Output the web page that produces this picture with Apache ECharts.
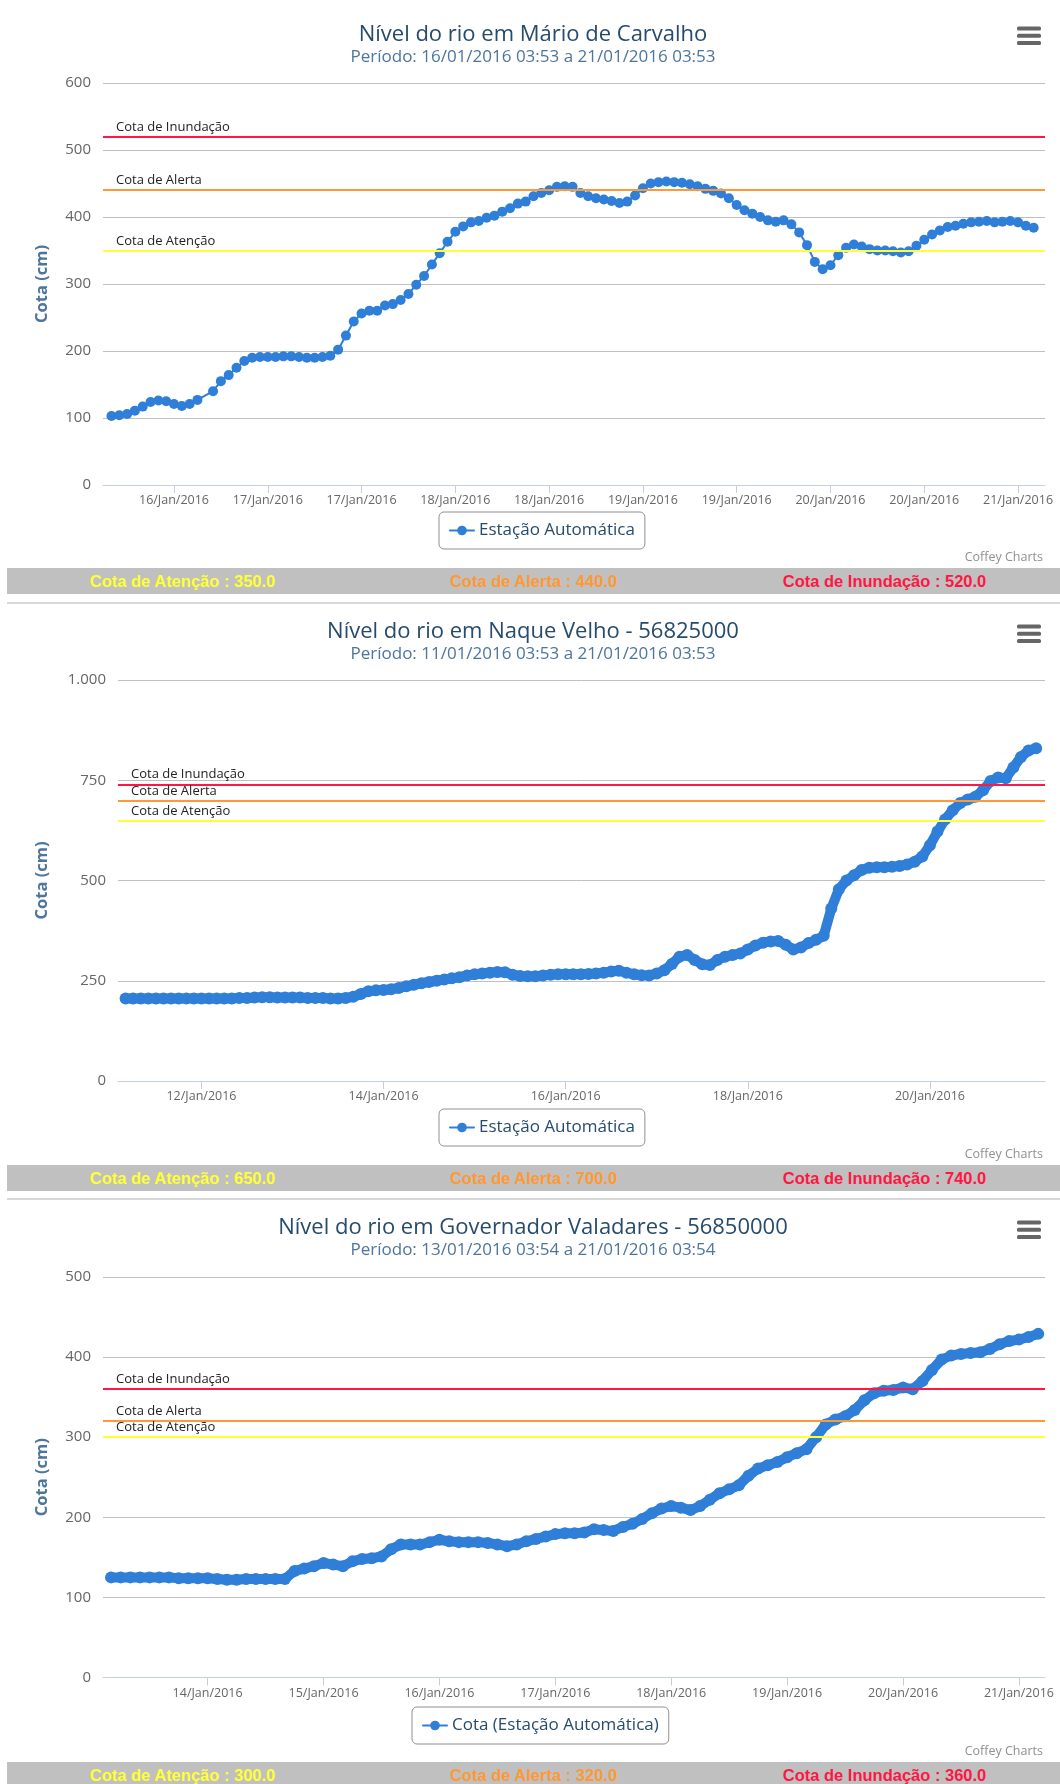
<!DOCTYPE html>
<html><head><meta charset="utf-8">
<script src="https://cdn.jsdelivr.net/npm/echarts@6/dist/echarts.min.js"></script>
<style>
html,body{margin:0;padding:0;overflow:hidden;background:#fff;width:1060px;height:1784px;}
.chart{position:absolute;left:0;width:1060px;}
.bar{position:absolute;left:7px;width:1053px;height:26px;background:#c0c0c0;display:flex;font-family:'Liberation Sans',Arial,sans-serif;font-weight:bold;font-size:16.5px;line-height:26px;}
.bar div{flex:1;text-align:center;}
.sep{position:absolute;left:7px;width:1053px;height:2px;background:#d8d8d8;}
</style></head>
<body>
<div id="c1" class="chart" style="top:6px;height:562px"></div>
<div id="b1" class="bar" style="top:568px"></div>
<div class="sep" style="top:602px"></div>
<div id="c2" class="chart" style="top:604px;height:561px"></div>
<div id="b2" class="bar" style="top:1165px"></div>
<div class="sep" style="top:1198px"></div>
<div id="c3" class="chart" style="top:1200px;height:562px"></div>
<div id="b3" class="bar" style="top:1762px"></div>
<script>
// ---------- DATA ----------
const thresholdNames = ['Cota de Atenção', 'Cota de Alerta', 'Cota de Inundação'];
const thresholdColors = ['#ffff33', '#ff9933', '#ff1744'];

// Chart 1: Mário de Carvalho (hourly readings)
const title1 = 'Nível do rio em Mário de Carvalho';
const subtitle1 = 'Período: 16/01/2016 03:53 a 21/01/2016 03:53';
const series1Name = 'Estação Automática';
const thresholds1 = [350, 440, 520];
const start1 = '2016-01-16 04:00';
const stepHours1 = 1;
const values1 = [103,104,106,111,117,124,126,125,121,118,
  121,127,null,140,155,164,175,185,190,191,
  191,191,192,192,191,190,190,191,193,202,
  223,244,256,260,260,268,270,276,285,299,
  312,329,346,363,378,386,392,394,399,402,
  408,413,420,423,431,436,440,445,446,445,
  436,431,428,426,424,421,423,432,443,450,
  452,453,452,451,449,446,442,439,435,428,
  418,410,405,400,395,393,395,389,377,358,
  333,322,328,343,354,359,356,352,350,350,
  349,347,349,357,366,374,380,385,387,390,
  392,393,394,392,393,394,392,387,384];
const xRange1 = ['2016-01-16 02:55', '2016-01-21 03:27'];
const ticks1 = ['2016-01-16 12:00','2016-01-17 00:00','2016-01-17 12:00','2016-01-18 00:00','2016-01-18 12:00',
  '2016-01-19 00:00','2016-01-19 12:00','2016-01-20 00:00','2016-01-20 12:00','2016-01-21 00:00'];
const yTicks1 = [0, 600, 100];

// Chart 2: Naque Velho (2-hourly readings)
const title2 = 'Nível do rio em Naque Velho - 56825000';
const subtitle2 = 'Período: 11/01/2016 03:53 a 21/01/2016 03:53';
const series2Name = 'Estação Automática';
const thresholds2 = [650, 700, 740];
const start2 = '2016-01-11 04:00';
const stepHours2 = 2;
const values2 = [206,206,206,206,206,206,206,206,206,206,
  206,206,206,206,206,207,207,208,209,209,
  208,208,208,208,207,207,207,206,206,207,
  210,217,224,226,227,229,232,236,240,244,
  247,250,253,256,259,263,266,268,270,272,
  271,265,262,261,261,263,265,266,266,266,
  266,267,268,270,273,275,270,266,264,263,
  268,276,292,310,314,302,291,289,302,310,
  314,318,328,338,345,348,349,340,328,333,
  344,352,362,430,478,500,513,526,532,533,
  533,534,536,540,547,560,588,622,652,675,
  693,702,709,725,748,757,755,782,808,824,
  830];
const xRange2 = ['2016-01-11 02:00', '2016-01-21 06:20'];
const ticks2 = ['2016-01-12 00:00','2016-01-14 00:00','2016-01-16 00:00','2016-01-18 00:00','2016-01-20 00:00'];
const yTicks2 = [0, 1000, 250];

// Chart 3: Governador Valadares (2-hourly readings)
const title3 = 'Nível do rio em Governador Valadares - 56850000';
const subtitle3 = 'Período: 13/01/2016 03:54 a 21/01/2016 03:54';
const series3Name = 'Cota (Estação Automática)';
const thresholds3 = [300, 320, 360];
const start3 = '2016-01-13 04:00';
const stepHours3 = 2;
const values3 = [125,125,125,125,125,125,125,124,124,124,
  124,123,122,122,123,123,123,123,123,133,
  136,139,143,141,139,145,148,149,151,160,
  166,166,166,169,172,170,169,169,169,168,
  166,164,166,170,173,176,179,180,180,181,
  185,184,183,188,192,198,205,211,214,212,
  209,214,222,230,235,240,252,261,265,269,
  275,280,285,300,316,322,326,334,346,355,
  358,359,362,360,370,384,397,402,404,405,
  406,410,416,420,422,425,429];
const xRange3 = ['2016-01-13 02:20', '2016-01-21 05:24'];
const ticks3 = ['2016-01-14 00:00','2016-01-15 00:00','2016-01-16 00:00','2016-01-17 00:00','2016-01-18 00:00',
  '2016-01-19 00:00','2016-01-20 00:00','2016-01-21 00:00'];
const yTicks3 = [0, 500, 100];

// ---------- HELPERS ----------
const MONTHS = ['Jan','Feb','Mar','Apr','May','Jun','Jul','Aug','Sep','Oct','Nov','Dec'];
function t(s){ const [d,hm]=s.split(' '); const [Y,M,D]=d.split('-').map(Number); const [h,m]=hm.split(':').map(Number); return Date.UTC(Y,M-1,D,h,m); }
function pad(n){ return (n<10?'0':'')+n; }
function fmtDate(v){ const d=new Date(v); return pad(d.getUTCDate())+'/'+MONTHS[d.getUTCMonth()]+'/'+d.getUTCFullYear(); }
function fmtNum(v){ return String(v).replace(/\B(?=(\d{3})+(?!\d))/g,'.'); }
function toSeries(start, step, vals){ const t0=t(start); return vals.map((v,i)=>[t0+i*step*3600000, v]); }

function fillBar(id, thr){
  const el=document.getElementById(id);
  el.innerHTML = thr.map((v,i)=>'<div style="color:'+thresholdColors[i]+'">'+thresholdNames[i]+' : '+v.toFixed(1)+'</div>').join('');
}

function build(id, c){
  const chart = echarts.init(document.getElementById(id), null, {renderer:'canvas'});
  const font = "'Open Sans', sans-serif";
  const thick = c.thick;
  chart.setOption({
    animation:false,
    textStyle:{fontFamily:font},
    title:{text:c.title, subtext:c.subtitle, left:533, textAlign:'center', top:c.titleTop, padding:0, itemGap:-1,
      textStyle:{fontSize:22, fontWeight:'normal', color:'#274b6d', fontFamily:font, lineHeight:26},
      subtextStyle:{fontSize:17, color:'#4d759e', fontFamily:font, lineHeight:20}},
    grid:{left:c.gridLeft, right:15, top:c.gridTop, height:c.gridHeight},
    legend:{data:[c.name], left:c.legendLeft, top:c.legendTop, padding:[10,10], borderColor:'#909090', borderWidth:1, borderRadius:5,
      itemWidth:24, itemHeight:12, textStyle:{color:'#274b6d', fontSize:17, fontFamily:font}},
    xAxis:{type:'value', min:t(c.xRange[0]), max:t(c.xRange[1]), splitLine:{show:false},
      axisLine:{show:true, lineStyle:{color:'#C0D0E0', width:1}},
      axisTick:{show:true, length:8, lineStyle:{color:'#C0D0E0'}, customValues:c.ticks.map(t)},
      axisLabel:{customValues:c.ticks.map(t), formatter:fmtDate, color:'#666', fontSize:12.5, margin:9, fontFamily:font}},
    yAxis:{type:'value', min:c.yTicks[0], max:c.yTicks[1], interval:c.yTicks[2], name:'Cota (cm)', nameLocation:'middle', nameGap:c.nameGap, nameRotate:90,
      nameTextStyle:{color:'#4d759e', fontWeight:'bold', fontSize:16.5, fontFamily:font},
      axisLine:{show:false}, axisTick:{show:false},
      axisLabel:{color:'#666', fontSize:15, margin:12, formatter:fmtNum, fontFamily:font},
      splitLine:{lineStyle:{color:'#C0C0C0', width:1}}},
    series:[
      {name:c.name, type:'line', data:c.data, connectNulls:true, symbol:'circle', showSymbol:true,
        symbolSize: thick ? 12 : 10, z:2,
        itemStyle:{color:'#2f7ed8', borderWidth:0},
        lineStyle:{color:'#2f7ed8', width: thick ? 10 : 2, cap:'round', join:'round'},
        emphasis:{disabled:true}},
      {name:'limits', type:'line', data:[], z:5,
        markLine:{silent:true, symbol:['none','none'], animation:false,
          lineStyle:{type:'solid', width:2},
          label:{position:'insideStartTop', distance:[13,3], color:'#222', fontSize:13, fontFamily:font},
          emphasis:{disabled:true},
          data:c.thresholds.map((v,i)=>({yAxis:v, lineStyle:{color:thresholdColors[i], type:'solid', width:2}, label:{formatter:thresholdNames[i]}}))}}
    ],
    graphic:[
      {type:'rect', shape:{x:1017, y:20.5, width:24, height:4, r:1.5}, style:{fill:'#666'}},
      {type:'rect', shape:{x:1017, y:27.8, width:24, height:4, r:1.5}, style:{fill:'#666'}},
      {type:'rect', shape:{x:1017, y:35, width:24, height:4, r:1.5}, style:{fill:'#666'}},
      {type:'text', x:1043, y:c.creditsY, style:{text:'Coffey Charts', fill:'#909090', font:"12.5px 'Open Sans', sans-serif", align:'right', verticalAlign:'middle'}}
    ]
  });
}

build('c1', {title:title1, subtitle:subtitle1, name:series1Name, data:toSeries(start1, stepHours1, values1), thresholds:thresholds1,
  xRange:xRange1, ticks:ticks1, yTicks:yTicks1, gridLeft:103, gridTop:77, gridHeight:402, nameGap:52, titleTop:16,
  legendLeft:439, legendTop:506, creditsY:551, thick:false});
build('c2', {title:title2, subtitle:subtitle2, name:series2Name, data:toSeries(start2, stepHours2, values2), thresholds:thresholds2,
  xRange:xRange2, ticks:ticks2, yTicks:yTicks2, gridLeft:118, gridTop:76, gridHeight:401, nameGap:67, titleTop:15,
  legendLeft:439, legendTop:505, creditsY:550, thick:true});
build('c3', {title:title3, subtitle:subtitle3, name:series3Name, data:toSeries(start3, stepHours3, values3), thresholds:thresholds3,
  xRange:xRange3, ticks:ticks3, yTicks:yTicks3, gridLeft:103, gridTop:77, gridHeight:400.5, nameGap:52, titleTop:15,
  legendLeft:412, legendTop:507, creditsY:551, thick:true});
fillBar('b1', thresholds1);
fillBar('b2', thresholds2);
fillBar('b3', thresholds3);
</script>
</body></html>
